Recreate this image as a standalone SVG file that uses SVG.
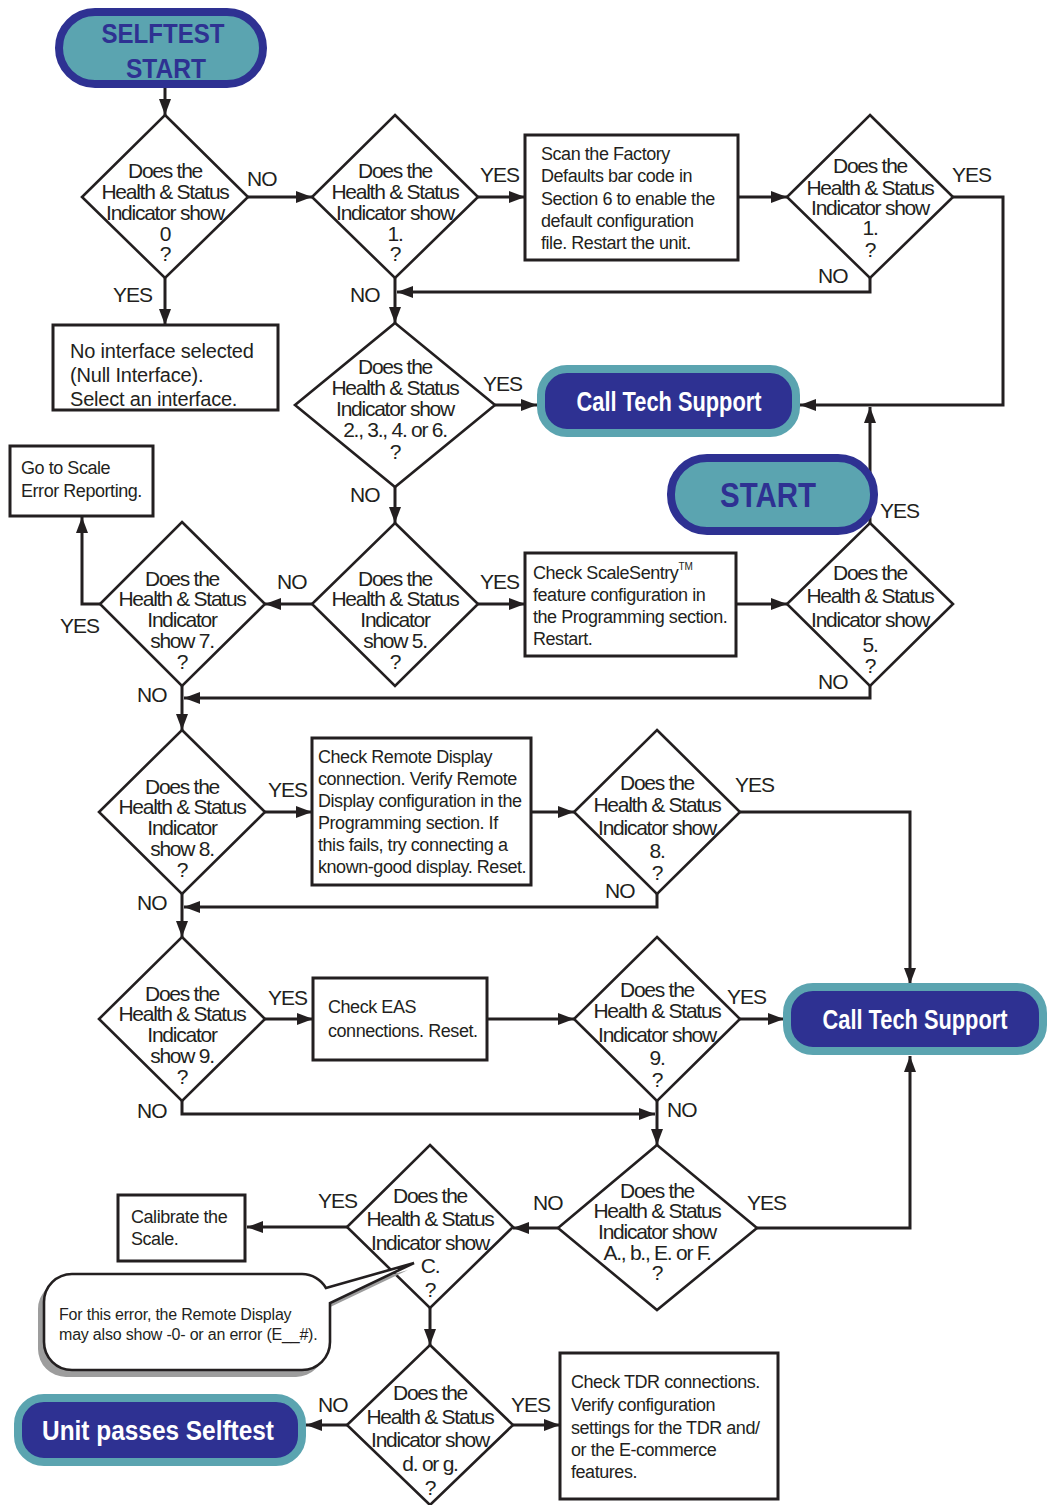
<svg xmlns="http://www.w3.org/2000/svg" width="1048" height="1505" viewBox="0 0 1048 1505">
<defs>
<style>
.d{fill:#fff;stroke:#231f20;stroke-width:2.6}
.b{fill:#fff;stroke:#231f20;stroke-width:3}
.c{fill:none;stroke:#231f20;stroke-width:3}
.pt{fill:#5ba4b0;stroke:#2e3192;stroke-width:8}
.pb{fill:#2e3192;stroke:#5ba4b0;stroke-width:8}
text{font-family:"Liberation Sans",Arial,sans-serif;fill:#231f20}
.dt{font-size:21px;letter-spacing:-1.25px;text-anchor:middle}
.bt{font-size:18px;letter-spacing:-0.45px}
.lb{font-size:21px;letter-spacing:-1px}
.tt{font-weight:bold;fill:#2e3192;text-anchor:middle}
.wt{font-weight:bold;fill:#fff;text-anchor:middle;font-size:27px}
</style>
<marker id="ah" markerUnits="userSpaceOnUse" markerWidth="16" markerHeight="12" refX="16" refY="6" orient="auto"><path d="M0,0 L16,6 L0,12 z" fill="#231f20"/></marker>
</defs>
<rect width="1048" height="1505" fill="#fff"/>
<g id="connectors" class="c" marker-end="url(#ah)">
<path d="M165,88 V115"/>
<path d="M248,197 H312"/>
<path d="M478,197 H525"/>
<path d="M738,197 H787"/>
<path d="M953,197 H1003 V405 H800"/>
<path d="M870,278 V292 H397"/>
<path d="M395,278 V323"/>
<path d="M165,278 V325"/>
<path d="M495,405 H537"/>
<path d="M870,523 V407"/>
<path d="M395,487 V523"/>
<path d="M312,604 H265"/>
<path d="M478,604 H525"/>
<path d="M736,604 H787"/>
<path d="M870,686 V698 H184"/>
<path d="M100,604 H82 V517"/>
<path d="M182,686 V730"/>
<path d="M265,812 H312"/>
<path d="M531,812 H574"/>
<path d="M740,812 H910 V984"/>
<path d="M657,894 V907 H184"/>
<path d="M182,894 V937"/>
<path d="M265,1019 H313"/>
<path d="M487,1019 H574"/>
<path d="M740,1019 H784"/>
<path d="M182,1101 V1114 H655"/>
<path d="M657,1101 V1145"/>
<path d="M757,1228 H910 V1056"/>
<path d="M558,1228 H513"/>
<path d="M347,1227 H247"/>
<path d="M430,1308 V1345"/>
<path d="M347,1425 H306"/>
<path d="M513,1425 H560"/>
</g>
<g id="labels" class="lb">
<text x="247" y="186">NO</text>
<text x="480" y="182">YES</text>
<text x="952" y="182">YES</text>
<text x="818" y="283">NO</text>
<text x="113" y="302">YES</text>
<text x="350" y="302">NO</text>
<text x="483" y="391">YES</text>
<text x="350" y="502">NO</text>
<text x="880" y="518">YES</text>
<text x="818" y="689">NO</text>
<text x="277" y="589">NO</text>
<text x="480" y="589">YES</text>
<text x="60" y="633">YES</text>
<text x="137" y="702">NO</text>
<text x="268" y="797">YES</text>
<text x="735" y="792">YES</text>
<text x="605" y="898">NO</text>
<text x="137" y="910">NO</text>
<text x="268" y="1005">YES</text>
<text x="727" y="1004">YES</text>
<text x="137" y="1118">NO</text>
<text x="667" y="1117">NO</text>
<text x="747" y="1210">YES</text>
<text x="533" y="1210">NO</text>
<text x="318" y="1208">YES</text>
<text x="318" y="1412">NO</text>
<text x="511" y="1412">YES</text>
</g>
<g id="selftest-start">
<rect class="pt" x="59" y="12" width="204" height="72" rx="36"/>
<text class="tt" x="163" y="43" font-size="28" textLength="123" lengthAdjust="spacingAndGlyphs">SELFTEST</text>
<text class="tt" x="166" y="78" font-size="28" textLength="80" lengthAdjust="spacingAndGlyphs">START</text>
</g>
<g id="q0">
<polygon class="d" points="165,115 248,197 165,278 82,197"/>
<text class="dt" x="165" y="178">Does the</text>
<text class="dt" x="165" y="199">Health &amp; Status</text>
<text class="dt" x="165" y="220">Indicator show</text>
<text class="dt" x="165" y="241">0</text>
<text class="dt" x="165" y="261">?</text>
</g>
<g id="q1a">
<polygon class="d" points="395,115 478,197 395,278 312,197"/>
<text class="dt" x="395" y="178">Does the</text>
<text class="dt" x="395" y="199">Health &amp; Status</text>
<text class="dt" x="395" y="220">Indicator show</text>
<text class="dt" x="395" y="241">1.</text>
<text class="dt" x="395" y="261">?</text>
</g>
<g id="scan-box">
<rect class="b" x="525" y="135" width="213" height="125"/>
<text class="bt" x="541" y="160">Scan the Factory</text>
<text class="bt" x="541" y="182">Defaults bar code in</text>
<text class="bt" x="541" y="205">Section 6 to enable the</text>
<text class="bt" x="541" y="227">default configuration</text>
<text class="bt" x="541" y="249">file. Restart the unit.</text>
</g>
<g id="q1b">
<polygon class="d" points="870,115 953,197 870,278 787,197"/>
<text class="dt" x="870" y="173">Does the</text>
<text class="dt" x="870" y="195">Health &amp; Status</text>
<text class="dt" x="870" y="215">Indicator show</text>
<text class="dt" x="870" y="235">1.</text>
<text class="dt" x="870" y="257">?</text>
</g>
<g id="null-box">
<rect class="b" x="53" y="325" width="225" height="85"/>
<text class="bt" x="70" y="358" style="font-size:20px;letter-spacing:-0.2px">No interface selected</text>
<text class="bt" x="70" y="382" style="font-size:20px;letter-spacing:-0.2px">(Null Interface).</text>
<text class="bt" x="70" y="406" style="font-size:20px;letter-spacing:-0.2px">Select an interface.</text>
</g>
<g id="q2346">
<polygon class="d" points="395,323 495,405 395,487 295,405"/>
<text class="dt" x="395" y="374">Does the</text>
<text class="dt" x="395" y="395">Health &amp; Status</text>
<text class="dt" x="395" y="416">Indicator show</text>
<text class="dt" x="395" y="437">2., 3., 4. or 6.</text>
<text class="dt" x="395" y="459">?</text>
</g>
<g id="call-tech-1">
<rect class="pb" x="541" y="369" width="255" height="64" rx="26"/>
<text class="wt" x="669" y="411" textLength="185" lengthAdjust="spacingAndGlyphs">Call Tech Support</text>
</g>
<g id="start">
<rect class="pt" x="671" y="458" width="203" height="73" rx="36"/>
<text class="tt" x="768" y="507" font-size="35" textLength="96" lengthAdjust="spacingAndGlyphs">START</text>
</g>
<g id="scale-error-box">
<rect class="b" x="10" y="446" width="143" height="70"/>
<text class="bt" x="21" y="474">Go to Scale</text>
<text class="bt" x="21" y="497">Error Reporting.</text>
</g>
<g id="q7">
<polygon class="d" points="182,522 265,604 182,686 100,604"/>
<text class="dt" x="182" y="586">Does the</text>
<text class="dt" x="182" y="606">Health &amp; Status</text>
<text class="dt" x="182" y="627">Indicator</text>
<text class="dt" x="182" y="648">show 7.</text>
<text class="dt" x="182" y="669">?</text>
</g>
<g id="q5a">
<polygon class="d" points="395,523 478,604 395,686 312,604"/>
<text class="dt" x="395" y="586">Does the</text>
<text class="dt" x="395" y="606">Health &amp; Status</text>
<text class="dt" x="395" y="627">Indicator</text>
<text class="dt" x="395" y="648">show 5.</text>
<text class="dt" x="395" y="669">?</text>
</g>
<g id="scalesentry-box">
<rect class="b" x="525" y="553" width="211" height="103"/>
<text class="bt" x="533" y="579">Check ScaleSentry<tspan font-size="10" dy="-9" letter-spacing="0">TM</tspan></text>
<text class="bt" x="533" y="601">feature configuration in</text>
<text class="bt" x="533" y="623">the Programming section.</text>
<text class="bt" x="533" y="645">Restart.</text>
</g>
<g id="q5b">
<polygon class="d" points="870,523 953,604 870,686 787,604"/>
<text class="dt" x="870" y="580">Does the</text>
<text class="dt" x="870" y="603">Health &amp; Status</text>
<text class="dt" x="870" y="627">Indicator show</text>
<text class="dt" x="870" y="652">5.</text>
<text class="dt" x="870" y="673">?</text>
</g>
<g id="q8a">
<polygon class="d" points="182,730 265,812 182,894 99,812"/>
<text class="dt" x="182" y="794">Does the</text>
<text class="dt" x="182" y="814">Health &amp; Status</text>
<text class="dt" x="182" y="835">Indicator</text>
<text class="dt" x="182" y="856">show 8.</text>
<text class="dt" x="182" y="877">?</text>
</g>
<g id="remote-box">
<rect class="b" x="312" y="738" width="219" height="147"/>
<text class="bt" x="318" y="763">Check Remote Display</text>
<text class="bt" x="318" y="785">connection. Verify Remote</text>
<text class="bt" x="318" y="807">Display configuration in the</text>
<text class="bt" x="318" y="829">Programming section. If</text>
<text class="bt" x="318" y="851">this fails, try connecting a</text>
<text class="bt" x="318" y="873">known-good display. Reset.</text>
</g>
<g id="q8b">
<polygon class="d" points="657,730 740,812 657,894 574,812"/>
<text class="dt" x="657" y="790">Does the</text>
<text class="dt" x="657" y="812">Health &amp; Status</text>
<text class="dt" x="657" y="835">Indicator show</text>
<text class="dt" x="657" y="858">8.</text>
<text class="dt" x="657" y="880">?</text>
</g>
<g id="q9a">
<polygon class="d" points="182,937 265,1019 182,1101 99,1019"/>
<text class="dt" x="182" y="1001">Does the</text>
<text class="dt" x="182" y="1021">Health &amp; Status</text>
<text class="dt" x="182" y="1042">Indicator</text>
<text class="dt" x="182" y="1063">show 9.</text>
<text class="dt" x="182" y="1084">?</text>
</g>
<g id="eas-box">
<rect class="b" x="313" y="978" width="174" height="82"/>
<text class="bt" x="328" y="1013">Check EAS</text>
<text class="bt" x="328" y="1037">connections. Reset.</text>
</g>
<g id="q9b">
<polygon class="d" points="657,937 740,1019 657,1101 574,1019"/>
<text class="dt" x="657" y="997">Does the</text>
<text class="dt" x="657" y="1018">Health &amp; Status</text>
<text class="dt" x="657" y="1042">Indicator show</text>
<text class="dt" x="657" y="1065">9.</text>
<text class="dt" x="657" y="1087">?</text>
</g>
<g id="call-tech-2">
<rect class="pb" x="787" y="987" width="256" height="64" rx="26"/>
<text class="wt" x="915" y="1029" textLength="185" lengthAdjust="spacingAndGlyphs">Call Tech Support</text>
</g>
<g id="qabef">
<polygon class="d" points="657,1145 757,1228 657,1310 558,1228"/>
<text class="dt" x="657" y="1198">Does the</text>
<text class="dt" x="657" y="1218">Health &amp; Status</text>
<text class="dt" x="657" y="1239">Indicator show</text>
<text class="dt" x="657" y="1260">A., b., E. or F.</text>
<text class="dt" x="657" y="1280">?</text>
</g>
<g id="calibrate-box">
<rect class="b" x="118" y="1195" width="127" height="66"/>
<text class="bt" x="131" y="1223">Calibrate the</text>
<text class="bt" x="131" y="1245">Scale.</text>
</g>
<g id="qc">
<polygon class="d" points="430,1145 513,1227 430,1308 347,1227"/>
<text class="dt" x="430" y="1203">Does the</text>
<text class="dt" x="430" y="1226">Health &amp; Status</text>
<text class="dt" x="430" y="1250">Indicator show</text>
<text class="dt" x="430" y="1273">C.</text>
<text class="dt" x="430" y="1297">?</text>
</g>
<g id="callout">
<path transform="translate(-6,7)" fill="#9d9d9d" d="M72,1274 H302 A28,28 0 0 1 326,1288 L414,1263 L330,1303 V1342 A28,28 0 0 1 302,1370 H72 A28,28 0 0 1 44,1342 V1302 A28,28 0 0 1 72,1274 Z"/>
<path fill="#fff" stroke="#231f20" stroke-width="2.6" stroke-linejoin="miter" d="M72,1274 H302 A28,28 0 0 1 326,1288 L414,1263 L330,1303 V1342 A28,28 0 0 1 302,1370 H72 A28,28 0 0 1 44,1342 V1302 A28,28 0 0 1 72,1274 Z"/>
<text x="59" y="1320" style="font-size:16px;letter-spacing:-0.2px">For this error, the Remote Display</text>
<text x="59" y="1340" style="font-size:16px;letter-spacing:-0.2px">may also show -0- or an error (E__#).</text>
</g>
<g id="qdg">
<polygon class="d" points="430,1345 513,1425 430,1505 347,1425"/>
<text class="dt" x="430" y="1400">Does the</text>
<text class="dt" x="430" y="1424">Health &amp; Status</text>
<text class="dt" x="430" y="1447">Indicator show</text>
<text class="dt" x="430" y="1471">d. or g.</text>
<text class="dt" x="430" y="1495">?</text>
</g>
<g id="unit-passes">
<rect class="pb" x="18" y="1398" width="284" height="64" rx="26"/>
<text class="wt" x="158" y="1440" textLength="232" lengthAdjust="spacingAndGlyphs">Unit passes Selftest</text>
</g>
<g id="tdr-box">
<rect class="b" x="560" y="1353" width="218" height="146"/>
<text class="bt" x="571" y="1388">Check TDR connections.</text>
<text class="bt" x="571" y="1411">Verify configuration</text>
<text class="bt" x="571" y="1434">settings for the TDR and/</text>
<text class="bt" x="571" y="1456">or the E-commerce</text>
<text class="bt" x="571" y="1478">features.</text>
</g>
</svg>
